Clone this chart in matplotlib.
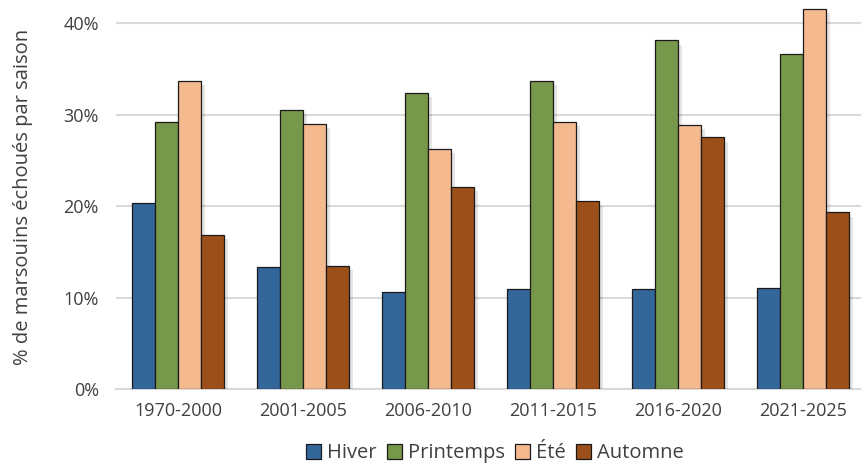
import matplotlib.pyplot as plt
import matplotlib.patheffects as pe
import numpy as np

periods = ["1970-2000", "2001-2005", "2006-2010", "2011-2015", "2016-2020", "2021-2025"]
hiver = [20.3, 13.3, 10.6, 10.9, 10.9, 11.1]
printemps = [29.2, 30.5, 32.4, 33.7, 38.1, 36.6]
ete = [33.7, 29.0, 26.2, 29.2, 28.9, 41.5]
automne = [16.8, 13.5, 22.1, 20.5, 27.5, 19.3]

seasons = ["Hiver", "Printemps", "Été", "Automne"]
colors = ["#336699", "#77974a", "#f5b98f", "#9c4f18"]

plt.rcParams["font.family"] = ["Open Sans", "DejaVu Sans"]

fig = plt.figure(figsize=(8.62, 4.66), dpi=100)
ax = fig.add_axes([0.134, 0.165, 0.870, 0.825])

x = np.arange(len(periods))
w = 0.184
shadow = [pe.SimplePatchShadow(offset=(3, -3), shadow_rgbFace="#000000", alpha=0.10), pe.Normal()]
for k, vals in enumerate([hiver, printemps, ete, automne]):
    ax.bar(x + (k - 1.5) * w, vals, w, color=colors[k], edgecolor="#1a1a1a",
           linewidth=0.9, label=seasons[k], zorder=3, path_effects=shadow)

ax.set_xlim(-0.5, len(periods) - 0.5)
ax.set_ylim(0, 42)
ax.set_yticks([0, 10, 20, 30, 40])
ax.set_yticklabels(["0%", "10%", "20%", "30%", "40%"])
ax.set_xticks(x)
ax.set_xticklabels(periods)
ax.yaxis.grid(True, color="#d9d9d9", linewidth=1.5, zorder=0)
ax.set_axisbelow(True)
for s in ["top", "right", "left"]:
    ax.spines[s].set_visible(False)
ax.spines["bottom"].set_color("#d9d9d9")
ax.spines["bottom"].set_linewidth(1.5)
ax.tick_params(axis="both", length=0, labelsize=13, colors="#404040", pad=9)
ax.tick_params(axis="y", pad=12)
ax.set_ylabel("% de marsouins échoués par saison", fontsize=14.5, color="#404040", labelpad=22)

handles, labels = ax.get_legend_handles_labels()
leg = fig.legend(handles, labels, loc="center", bbox_to_anchor=(0.574, 0.027), ncol=4, frameon=False,
                 fontsize=14.5, handlelength=0.75, handleheight=0.75, handletextpad=0.3,
                 columnspacing=0.5, labelcolor="#404040", borderpad=0)
for h in leg.legend_handles:
    h.set_path_effects([])

fig.savefig("out.png", dpi=100)
